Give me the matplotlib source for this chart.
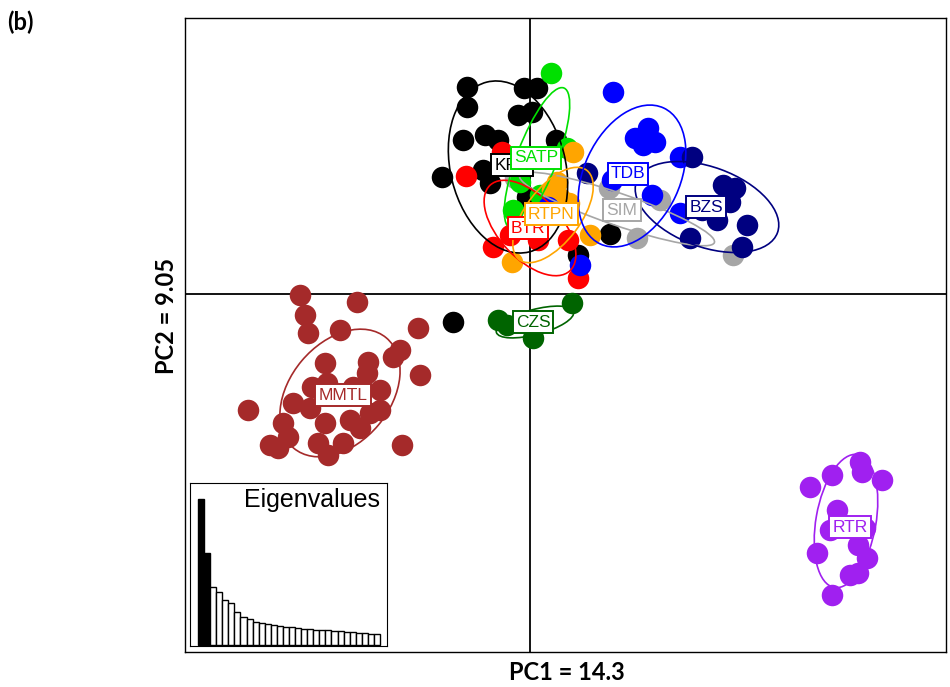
import numpy as np
import matplotlib
matplotlib.use("Agg")
import matplotlib.pyplot as plt
from matplotlib.patches import Ellipse

# group scores on PC1 / PC2
kpn_x = [-0.63, -0.06, 0.07, -0.63, -0.12, 0.02, -0.67, -0.45, -0.32, 0.26, -0.88, -0.47, -0.40, -0.03, 0.80, 0.48, -0.77]
kpn_y = [2.07, 2.06, 2.06, 1.87, 1.79, 1.82, 1.54, 1.59, 1.54, 1.54, 1.17, 1.24, 1.11, 0.97, 0.60, 0.39, -0.28]

sim_x = [1.07, 2.03, 0.79, 1.30, -0.15]
sim_y = [0.56, 0.39, 1.06, 0.94, 1.16]

btr_x = [-0.64, -0.28, -0.37, -0.20, 0.08, 0.38, 0.48]
btr_y = [1.18, 1.42, 0.47, 0.59, 0.54, 0.54, 0.16]

satp_x = [0.21, 0.37, -0.10, -0.17, 0.10]
satp_y = [2.21, 1.46, 1.12, 0.84, 0.99]

rtpn_x = [0.43, 0.27, 0.22, 0.39, 0.60, -0.18, 0.30]
rtpn_y = [1.42, 1.12, 1.04, 0.91, 0.59, 0.32, 0.96]

tdb_x = [0.83, 1.05, 1.18, 1.25, 1.13, 1.50, 0.82, 1.22, 1.50, 0.50, 0.18]
tdb_y = [2.02, 1.56, 1.66, 1.52, 1.49, 1.37, 1.14, 0.99, 0.81, 0.29, 0.87]

bzs_x = [1.62, 0.57, 1.93, 2.05, 2.00, 1.87, 2.17, 1.60, 2.12, 1.72]
bzs_y = [1.37, 1.21, 1.09, 1.06, 0.92, 0.74, 0.69, 0.56, 0.47, 0.84]

czs_x = [-0.32, -0.23, 0.42, 0.03]
czs_y = [-0.26, -0.31, -0.09, -0.44]

mmtl_x = [-2.30, -1.73, -2.25, -2.22, -1.90, -1.12, -1.30, -1.37, -2.05, -1.62, -1.63, -1.10,
          -2.18, -2.03, -1.77, -1.50, -2.37, -2.20, -2.82, -1.50, -1.60, -2.47, -2.05, -1.80,
          -1.70, -2.42, -2.60, -2.52, -2.12, -1.87, -2.02, -1.28]
mmtl_y = [-0.01, -0.08, -0.21, -0.39, -0.36, -0.34, -0.56, -0.63, -0.69, -0.68, -0.79, -0.81,
          -0.93, -0.89, -0.93, -0.96, -1.09, -1.14, -1.16, -1.16, -1.19, -1.29, -1.29, -1.26,
          -1.34, -1.43, -1.51, -1.54, -1.49, -1.49, -1.61, -1.51]

rtr_x = [3.30, 3.32, 3.02, 2.80, 3.52, 3.07, 3.00, 3.35, 3.28, 2.87, 3.37, 3.20, 3.28, 3.02]
rtr_y = [-1.68, -1.78, -1.81, -1.93, -1.86, -2.16, -2.36, -2.34, -2.51, -2.59, -2.64, -2.81, -2.79, -3.01]

# ellipse: centre x, centre y, width, height, angle ; label position
groups = ["KPN", "SIM", "BTR", "SATP", "RTPN", "TDB", "BZS", "CZS", "MMTL", "RTR"]
colors = ["black", "#a6a6a6", "red", "#00e000", "orange", "blue", "#000080", "#006400", "#a52a2a", "#a020f0"]
xs = [kpn_x, sim_x, btr_x, satp_x, rtpn_x, tdb_x, bzs_x, czs_x, mmtl_x, rtr_x]
ys = [kpn_y, sim_y, btr_y, satp_y, rtpn_y, tdb_y, bzs_y, czs_y, mmtl_y, rtr_y]
ell_cx = [-0.22, 0.87, 0.00, 0.07, 0.23, 1.02, 1.77, 0.05, -1.90, 3.16]
ell_cy = [1.27, 0.85, 0.66, 1.36, 0.79, 1.18, 0.87, -0.28, -0.99, -2.27]
ell_w = [1.75, 2.06, 1.17, 1.50, 1.12, 1.50, 1.50, 0.80, 1.44, 1.35]
ell_h = [1.15, 0.32, 0.62, 0.40, 0.55, 0.96, 0.80, 0.25, 1.00, 0.60]
ell_ang = [104, -19, -47, 69, 53, 65, -20, 15, 50, 80]
lab_x = [-0.18, 0.92, -0.02, 0.06, 0.21, 0.98, 1.76, 0.03, -1.87, 3.20]
lab_y = [1.29, 0.84, 0.66, 1.36, 0.80, 1.20, 0.87, -0.28, -1.01, -2.33]

eigenvalues = [14.3, 9.05, 5.72, 5.23, 4.44, 4.08, 3.26, 2.70, 2.57, 2.30, 2.14, 2.04, 1.94, 1.88, 1.81,
               1.74, 1.68, 1.61, 1.55, 1.51, 1.48, 1.45, 1.38, 1.35, 1.32, 1.28, 1.22, 1.18, 1.12, 1.09]

W, H = 950, 687
fig = plt.figure(figsize=(9.5, 6.87), dpi=100)
ax = fig.add_axes([185 / W, (H - 652) / H, 761 / W, 634 / H])
ax.set_xlim(-3.45, 4.16)
ax.set_ylim(-3.58, 2.76)
ax.set_xticks([])
ax.set_yticks([])
for sp in ax.spines.values():
    sp.set_linewidth(1.0)
ax.axhline(0, color="black", lw=1.3, zorder=1)
ax.axvline(0, color="black", lw=1.3, zorder=1)

for i, g in enumerate(groups):
    ax.scatter(xs[i], ys[i], s=240, color=colors[i], linewidths=0, zorder=2)

for i, g in enumerate(groups):
    e = Ellipse((ell_cx[i], ell_cy[i]), ell_w[i], ell_h[i], angle=ell_ang[i],
                fill=False, edgecolor=colors[i], lw=1.2, zorder=3)
    ax.add_patch(e)

lab_order = ["KPN", "SIM", "TDB", "BZS", "BTR", "SATP", "RTPN", "CZS", "MMTL", "RTR"]
for z, g in enumerate(lab_order):
    i = groups.index(g)
    ax.text(lab_x[i], lab_y[i], g, color=colors[i], fontsize=12.5, family="Liberation Sans",
            ha="center", va="center", zorder=4 + z,
            bbox=dict(boxstyle="square,pad=0.18", fc="white", ec=colors[i], lw=1.4))

# eigenvalue inset
ins = fig.add_axes([190 / W, (H - 646) / H, 197 / W, 163 / H])
n = np.arange(1, len(eigenvalues) + 1)
bar_cols = ["black" if k < 2 else "white" for k in range(len(eigenvalues))]
ins.bar(n, eigenvalues, width=1.0, color=bar_cols, edgecolor="black", lw=1.0)
ins.set_xlim(-0.82, 31.65)
ins.set_ylim(-0.1, 15.9)
ins.set_xticks([])
ins.set_yticks([])
ins.text(0.965, 0.97, "Eigenvalues", transform=ins.transAxes, ha="right", va="top",
         fontsize=18, family="Liberation Sans")

fig.text(567 / W, 1 - 672 / H, "PC1 = 14.3", ha="center", va="center",
         fontsize=17, fontweight="bold", family="Lato")
fig.text(166 / W, 1 - 316 / H, "PC2 = 9.05", ha="center", va="center", rotation=90,
         fontsize=17, fontweight="bold", family="Lato")
fig.text(7 / W, 1 - 22 / H, "(b)", ha="left", va="center",
         fontsize=17, fontweight="bold", family="Lato")

fig.savefig("out.png", dpi=100, facecolor="white")
